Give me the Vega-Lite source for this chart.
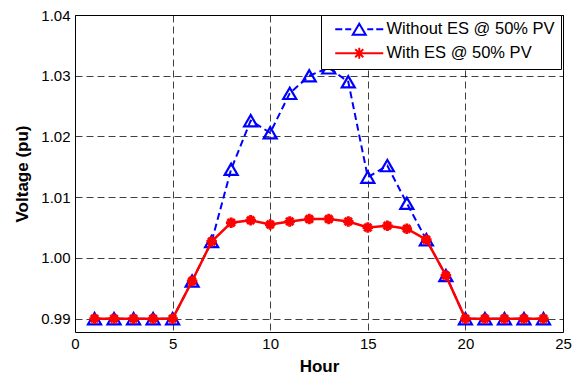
{
  "$schema": "https://vega.github.io/schema/vega-lite/v6.json",
  "width": 488,
  "height": 317,
  "autosize": "none",
  "padding": {"left": 75, "top": 15, "right": 9, "bottom": 47},
  "background": "white",
  "data": {
    "values": [
      {"hour": 1, "v": 0.99, "s": "Without ES @ 50% PV"},
      {"hour": 2, "v": 0.99, "s": "Without ES @ 50% PV"},
      {"hour": 3, "v": 0.99, "s": "Without ES @ 50% PV"},
      {"hour": 4, "v": 0.99, "s": "Without ES @ 50% PV"},
      {"hour": 5, "v": 0.99, "s": "Without ES @ 50% PV"},
      {"hour": 6, "v": 0.9962, "s": "Without ES @ 50% PV"},
      {"hour": 7, "v": 1.0027, "s": "Without ES @ 50% PV"},
      {"hour": 8, "v": 1.0146, "s": "Without ES @ 50% PV"},
      {"hour": 9, "v": 1.0226, "s": "Without ES @ 50% PV"},
      {"hour": 10, "v": 1.0206, "s": "Without ES @ 50% PV"},
      {"hour": 11, "v": 1.0271, "s": "Without ES @ 50% PV"},
      {"hour": 12, "v": 1.03, "s": "Without ES @ 50% PV"},
      {"hour": 13, "v": 1.0313, "s": "Without ES @ 50% PV"},
      {"hour": 14, "v": 1.029, "s": "Without ES @ 50% PV"},
      {"hour": 15, "v": 1.0133, "s": "Without ES @ 50% PV"},
      {"hour": 16, "v": 1.0152, "s": "Without ES @ 50% PV"},
      {"hour": 17, "v": 1.009, "s": "Without ES @ 50% PV"},
      {"hour": 18, "v": 1.003, "s": "Without ES @ 50% PV"},
      {"hour": 19, "v": 0.9971, "s": "Without ES @ 50% PV"},
      {"hour": 20, "v": 0.99, "s": "Without ES @ 50% PV"},
      {"hour": 21, "v": 0.99, "s": "Without ES @ 50% PV"},
      {"hour": 22, "v": 0.99, "s": "Without ES @ 50% PV"},
      {"hour": 23, "v": 0.99, "s": "Without ES @ 50% PV"},
      {"hour": 24, "v": 0.99, "s": "Without ES @ 50% PV"},
      {"hour": 1, "v": 0.99, "s": "With ES @ 50% PV"},
      {"hour": 2, "v": 0.99, "s": "With ES @ 50% PV"},
      {"hour": 3, "v": 0.99, "s": "With ES @ 50% PV"},
      {"hour": 4, "v": 0.99, "s": "With ES @ 50% PV"},
      {"hour": 5, "v": 0.99, "s": "With ES @ 50% PV"},
      {"hour": 6, "v": 0.9962, "s": "With ES @ 50% PV"},
      {"hour": 7, "v": 1.0027, "s": "With ES @ 50% PV"},
      {"hour": 8, "v": 1.0058, "s": "With ES @ 50% PV"},
      {"hour": 9, "v": 1.0062, "s": "With ES @ 50% PV"},
      {"hour": 10, "v": 1.0055, "s": "With ES @ 50% PV"},
      {"hour": 11, "v": 1.006, "s": "With ES @ 50% PV"},
      {"hour": 12, "v": 1.0064, "s": "With ES @ 50% PV"},
      {"hour": 13, "v": 1.0064, "s": "With ES @ 50% PV"},
      {"hour": 14, "v": 1.006, "s": "With ES @ 50% PV"},
      {"hour": 15, "v": 1.005, "s": "With ES @ 50% PV"},
      {"hour": 16, "v": 1.0053, "s": "With ES @ 50% PV"},
      {"hour": 17, "v": 1.0048, "s": "With ES @ 50% PV"},
      {"hour": 18, "v": 1.003, "s": "With ES @ 50% PV"},
      {"hour": 19, "v": 0.9971, "s": "With ES @ 50% PV"},
      {"hour": 20, "v": 0.99, "s": "With ES @ 50% PV"},
      {"hour": 21, "v": 0.99, "s": "With ES @ 50% PV"},
      {"hour": 22, "v": 0.99, "s": "With ES @ 50% PV"},
      {"hour": 23, "v": 0.99, "s": "With ES @ 50% PV"},
      {"hour": 24, "v": 0.99, "s": "With ES @ 50% PV"}
    ]
  },
  "encoding": {
    "x": {
      "field": "hour",
      "type": "quantitative",
      "scale": {"domain": [0, 25], "nice": false, "zero": false},
      "axis": {"values": [0, 5, 10, 15, 20, 25], "title": "Hour", "labelFlush": false}
    },
    "y": {
      "field": "v",
      "type": "quantitative",
      "scale": {"domain": [0.9878, 1.04], "nice": false, "zero": false},
      "axis": {"values": [0.99, 1.0, 1.01, 1.02, 1.03, 1.04], "format": ".2f", "title": "Voltage (pu)", "labelFlush": false}
    },
    "color": {
      "field": "s",
      "type": "nominal",
      "scale": {"domain": ["Without ES @ 50% PV", "With ES @ 50% PV"], "range": ["#0000ff", "#ff0000"]},
      "legend": {
        "title": null,
        "orient": "none",
        "legendX": 246,
        "legendY": 0,
        "zindex": 0,
        "padding": 6,
        "fillColor": "white",
        "strokeColor": "black",
        "cornerRadius": 0,
        "symbolSize": 100,
        "symbolOffset": 24,
        "symbolStrokeWidth": 2,
        "labelFont": "Liberation Sans",
        "labelFontSize": 16.5,
        "labelColor": "black",
        "labelOffset": 19,
        "rowPadding": 4,
        "labelLimit": 300,
        "encode": {
          "symbols": {
            "update": {
              "shape": {"signal": "datum.value === 'With ES @ 50% PV' ? 'M-4.8,0H4.8M0,-1.1V1.1M-0.8,-0.8L0.8,0.8M-0.8,0.8L0.8,-0.8' : 'M-4.8,0H-3.4M-2.8,0H-1.6M1.6,0H2.8M3.4,0H4.8M0,-1.1L1.3,1.1L-1.3,1.1Z'"},
              "fill": {"value": "transparent"},
              "strokeDash": {"value": []},
              "strokeWidth": {"value": 2},
              "opacity": {"value": 1}
            }
          }
        }
      }
    }
  },
  "layer": [
    {
      "transform": [{"filter": "datum.s === 'Without ES @ 50% PV'"}],
      "mark": {"type": "line", "strokeDash": [7, 4], "strokeWidth": 2}
    },
    {
      "transform": [{"filter": "datum.s === 'Without ES @ 50% PV'"}],
      "mark": {"type": "point", "shape": "triangle-up", "size": 170, "filled": false, "strokeWidth": 2.2, "opacity": 1}
    },
    {
      "transform": [{"filter": "datum.s === 'With ES @ 50% PV'"}],
      "mark": {"type": "line", "strokeWidth": 2.5}
    },
    {
      "transform": [{"filter": "datum.s === 'With ES @ 50% PV'"}],
      "mark": {"type": "point", "shape": "M0,-1V1M-1,0H1M-0.7,-0.7L0.7,0.7M-0.7,0.7L0.7,-0.7", "size": 110, "filled": false, "strokeWidth": 3, "opacity": 1}
    }
  ],
  "config": {
    "font": "Liberation Sans",
    "view": {"stroke": "black", "strokeWidth": 1},
    "axis": {
      "labelFont": "Liberation Sans",
      "labelFontSize": 15,
      "labelColor": "black",
      "titleFont": "Liberation Sans",
      "titleFontSize": 17,
      "titleFontWeight": "bold",
      "titleColor": "black",
      "ticks": false,
      "domain": false,
      "grid": true,
      "gridDash": [7, 4],
      "gridColor": "#000000",
      "gridOpacity": 0.75,
      "gridWidth": 1
    },
    "axisX": {"labelPadding": 4, "titlePadding": 7},
    "axisY": {"labelPadding": 5, "titlePadding": 9}
  }
}
